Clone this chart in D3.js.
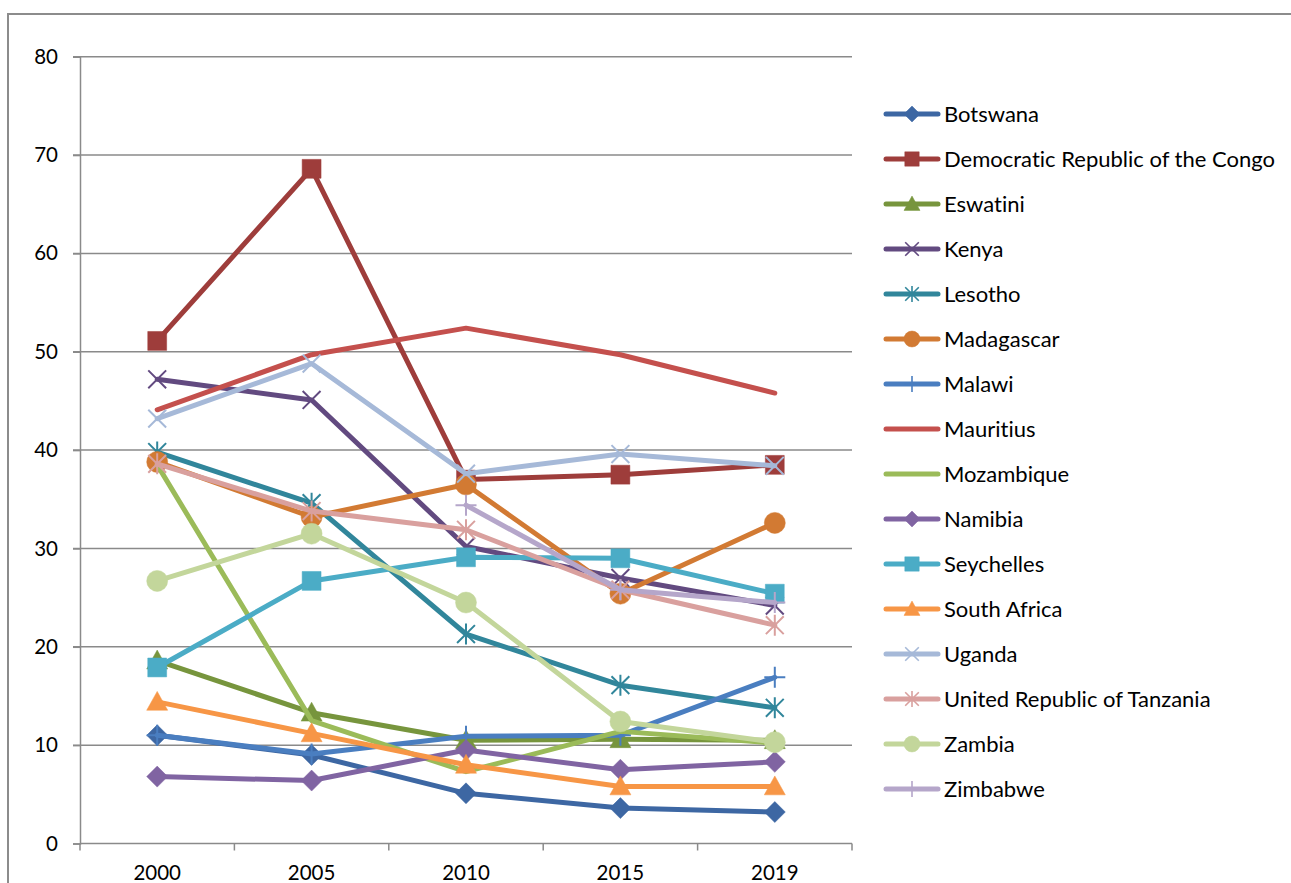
<!DOCTYPE html>
<html>
<head>
<meta charset="utf-8">
<script src="https://cdn.jsdelivr.net/npm/d3@7"></script>
<style>
  html, body { margin: 0; padding: 0; background: #fff; }
  svg { display: block; font-family: Lato, "Open Sans", sans-serif; font-variant-ligatures: none; }
</style>
</head>
<body>
<svg id="chart" width="1291" height="883"></svg>
<script>
// Years on the category axis
const years = ["2000", "2005", "2010", "2015", "2019"];

// Country names, in legend order
const countries = [
  "Botswana", "Democratic Republic of the Congo", "Eswatini", "Kenya", "Lesotho",
  "Madagascar", "Malawi", "Mauritius", "Mozambique", "Namibia", "Seychelles",
  "South Africa", "Uganda", "United Republic of Tanzania", "Zambia", "Zimbabwe"
];

// One value per year for each country (null = no data)
const botswana   = [11.0, 9.0, 5.1, 3.6, 3.2];
const drc        = [51.1, 68.6, 37.0, 37.5, 38.5];
const eswatini   = [18.6, 13.3, 10.5, 10.6, 10.5];
const kenya      = [47.2, 45.1, 30.2, 27.0, 24.2];
const lesotho    = [39.8, 34.6, 21.3, 16.1, 13.8];
const madagascar = [38.8, 33.2, 36.5, 25.4, 32.6];
const malawi     = [11.0, 9.1, 10.9, 11.0, 16.9];
const mauritius  = [44.1, 49.7, 52.4, 49.7, 45.8];
const mozambique = [38.5, 12.5, 7.3, 11.4, 10.2];
const namibia    = [6.8, 6.4, 9.5, 7.5, 8.3];
const seychelles = [17.9, 26.7, 29.1, 29.0, 25.4];
const southAfrica= [14.4, 11.2, 8.0, 5.8, 5.8];
const uganda     = [43.2, 48.8, 37.6, 39.6, 38.4];
const tanzania   = [38.6, 33.8, 31.9, 25.8, 22.2];
const zambia     = [26.7, 31.5, 24.5, 12.4, 10.3];
const zimbabwe   = [null, null, 34.4, 25.8, 24.5];

const valueSets = [botswana, drc, eswatini, kenya, lesotho, madagascar, malawi,
  mauritius, mozambique, namibia, seychelles, southAfrica, uganda, tanzania, zambia, zimbabwe];

// Y-axis tick labels
const yTicks = [0, 10, 20, 30, 40, 50, 60, 70, 80];

// Series colours and marker shapes
const colors = ["#3D67A3", "#9E3D3B", "#77953D", "#624A80", "#31869B", "#D27A33",
  "#4A7EC0", "#C4504D", "#9BBB59", "#8064A2", "#4BACC6", "#F79646",
  "#A6B9D8", "#D9A09E", "#C3D69B", "#B5A6CA"];
const markers = ["diamond", "square", "triangle", "x", "star", "circle", "plus", "none",
  "none", "diamond", "square", "triangle", "x", "star", "circle", "plus"];

const series = countries.map((name, i) => ({
  name, color: colors[i], marker: markers[i],
  values: years.map((y, j) => ({ year: y, v: valueSets[i][j] }))
}));

const svg = d3.select("#chart");

// Outer chart frame
svg.append("path")
  .attr("d", "M8,900 L8,14 L1300,14")
  .attr("fill", "none").attr("stroke", "#8C8C8C").attr("stroke-width", 2);

const plot = { left: 80, right: 852, top: 56.7, bottom: 843.5 };

const x = d3.scalePoint().domain(years).range([plot.left, plot.right]).padding(0.5);
const y = d3.scaleLinear().domain([0, 80]).range([plot.bottom, plot.top]);

// Horizontal gridlines
svg.append("g")
  .selectAll("line")
  .data(yTicks.filter(t => t > 0))
  .join("line")
  .attr("x1", plot.left - 7).attr("x2", plot.right)
  .attr("y1", d => y(d)).attr("y2", d => y(d))
  .attr("stroke", "#8A8A8A").attr("stroke-width", 1.5);

// Y axis
const yAxis = d3.axisLeft(y).tickValues(yTicks).tickSize(7).tickPadding(15);
const gy = svg.append("g").attr("transform", `translate(${plot.left},0)`).call(yAxis);
gy.select(".domain").attr("stroke", "#8A8A8A").attr("stroke-width", 1.5);
gy.selectAll(".tick line").attr("stroke", "#8A8A8A").attr("stroke-width", 1.5);
gy.selectAll(".tick text").attr("font-size", 20.5).attr("fill", "#000")
  .attr("font-family", "Lato, 'Open Sans', sans-serif");

// X axis: tick marks sit on the category boundaries
const xBoundary = d3.scaleLinear().domain([0, years.length]).range([plot.left, plot.right]);
const gx = svg.append("g");
gx.append("line")
  .attr("x1", plot.left).attr("x2", plot.right)
  .attr("y1", plot.bottom).attr("y2", plot.bottom)
  .attr("stroke", "#8A8A8A").attr("stroke-width", 1.5);
gx.selectAll("line.tk")
  .data(d3.range(years.length + 1))
  .join("line").attr("class", "tk")
  .attr("x1", d => xBoundary(d)).attr("x2", d => xBoundary(d))
  .attr("y1", plot.bottom).attr("y2", plot.bottom + 7)
  .attr("stroke", "#8A8A8A").attr("stroke-width", 1.5);
gx.selectAll("text")
  .data(years)
  .join("text")
  .attr("x", d => x(d)).attr("y", 880)
  .attr("text-anchor", "middle")
  .attr("font-size", 20.5).attr("fill", "#000")
  .text(d => d);

// Marker path builder
function markerPath(type, s) {
  switch (type) {
    case "diamond": return `M0,${-s}L${s},0L0,${s}L${-s},0Z`;
    case "square": { const h = s * 0.9; return `M${-h},${-h}H${h}V${h}H${-h}Z`; }
    case "triangle": return `M0,${-s}L${s},${s * 0.8}L${-s},${s * 0.8}Z`;
    case "circle": return d3.symbol(d3.symbolCircle, Math.PI * s * s)();
    case "x": { const h = s * 0.85; return `M${-h},${-h}L${h},${h}M${-h},${h}L${h},${-h}`; }
    case "star": { const h = s * 0.85; return `M${-h},${-h}L${h},${h}M${-h},${h}L${h},${-h}M0,${-s}L0,${s}`; }
    case "plus": return `M${-s},0L${s},0M0,${-s}L0,${s}`;
    default: return "";
  }
}
const strokeOnly = t => t === "x" || t === "star" || t === "plus";

const line = d3.line()
  .defined(d => d.v !== null)
  .x(d => x(d.year))
  .y(d => y(d.v));

// Series lines and markers
const gSeries = svg.append("g");
series.forEach(s => {
  const g = gSeries.append("g");
  g.append("path")
    .datum(s.values)
    .attr("d", line)
    .attr("fill", "none")
    .attr("stroke", s.color)
    .attr("stroke-width", 5)
    .attr("stroke-linejoin", "round")
    .attr("stroke-linecap", "round");
  if (s.marker !== "none") {
    g.selectAll("path.mk")
      .data(s.values.filter(d => d.v !== null))
      .join("path").attr("class", "mk")
      .attr("transform", d => `translate(${x(d.year)},${y(d.v)})`)
      .attr("d", markerPath(s.marker, 10.5))
      .attr("fill", strokeOnly(s.marker) ? "none" : s.color)
      .attr("stroke", s.color)
      .attr("stroke-width", strokeOnly(s.marker) ? 2 : 0.5);
  }
});

// Legend
const legend = svg.append("g");
const legendRow = d3.scaleLinear().domain([0, 1]).range([114, 159]);
series.forEach((s, i) => {
  const g = legend.append("g").attr("transform", `translate(0,${legendRow(i)})`);
  g.append("line")
    .attr("x1", 886).attr("x2", 938).attr("y1", 0).attr("y2", 0)
    .attr("stroke", s.color).attr("stroke-width", 5).attr("stroke-linecap", "round");
  if (s.marker !== "none") {
    g.append("path")
      .attr("transform", "translate(912,0)")
      .attr("d", markerPath(s.marker, 8))
      .attr("fill", strokeOnly(s.marker) ? "none" : s.color)
      .attr("stroke", s.color)
      .attr("stroke-width", strokeOnly(s.marker) ? 1.6 : 0.5);
  }
  g.append("text")
    .attr("x", 944).attr("y", 0).attr("dy", "0.35em")
    .attr("font-size", 22).attr("fill", "#000")
    .text(s.name);
});
</script>
</body>
</html>
